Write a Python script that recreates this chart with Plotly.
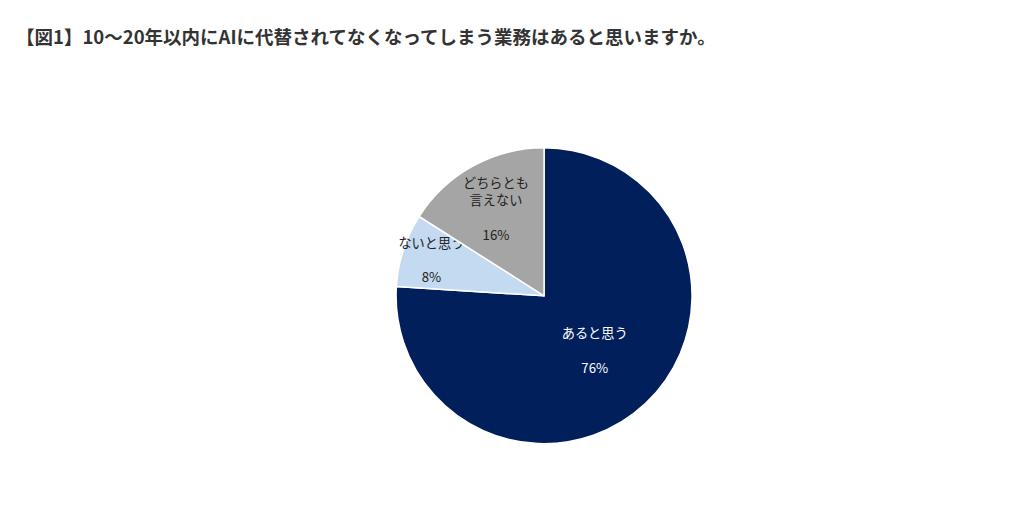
import plotly.graph_objects as go

labels = ["あると思う", "ないと思う", "どちらとも<br>言えない"]
values = [76, 8, 16]
colors = ["#001F5B", "#C3DAF0", "#A5A5A5"]
text_colors = ["white", "#222222", "#222222"]

fig = go.Figure(go.Pie(
    labels=labels, values=values, sort=False, direction="clockwise", rotation=0,
    marker=dict(colors=colors, line=dict(color="white", width=1.5)),
    texttemplate="%{label}<br><br>%{value}%", textposition="inside",
    insidetextorientation="horizontal",
    textfont=dict(family="Noto Sans CJK JP", size=15, color=text_colors),
    domain=dict(x=[0.379, 0.668], y=[0.142, 0.725]),
    showlegend=False, hoverinfo="skip",
))

fig.update_layout(
    width=1024, height=508, margin=dict(l=0, r=0, t=0, b=0),
    paper_bgcolor="white", plot_bgcolor="white",
    uniformtext=dict(minsize=12, mode="show"),
    annotations=[dict(
        text="<b>【図1】10〜20年以内にAIに代替されてなくなってしまう業務はあると思いますか。</b>",
        x=0.006, y=0.945, xref="paper", yref="paper", xanchor="left", yanchor="middle",
        showarrow=False, font=dict(family="Noto Sans CJK JP", size=18.5, color="#333333"),
    )],
)

fig.write_html("out.html")
